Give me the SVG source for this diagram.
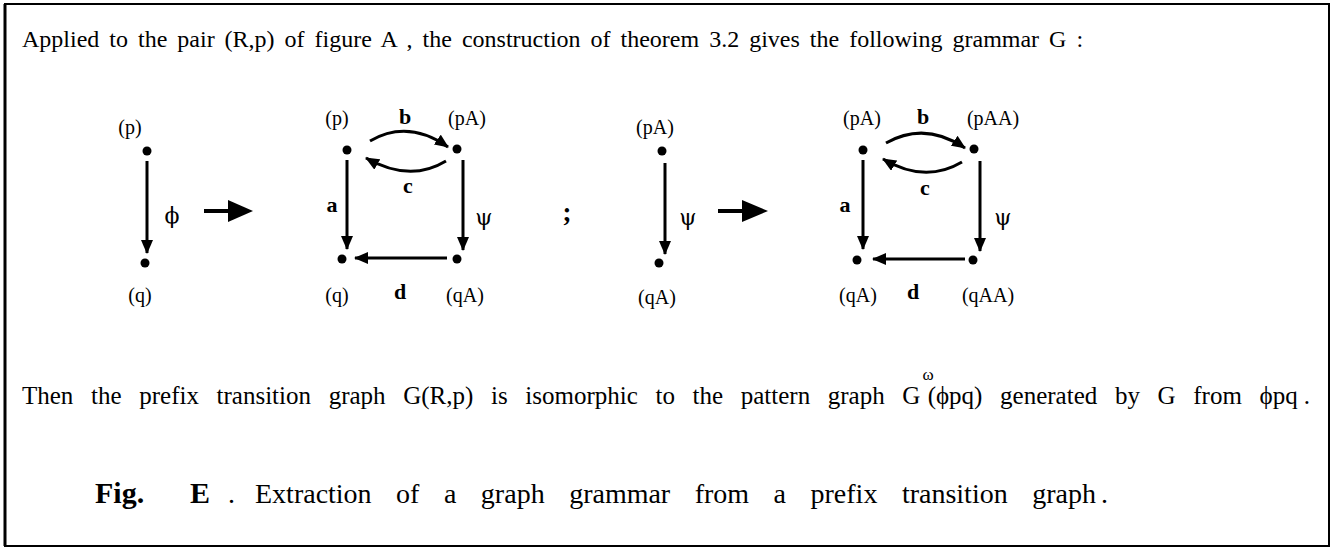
<svg xmlns="http://www.w3.org/2000/svg" width="1335" height="550" viewBox="0 0 1335 550">
<style>
text{font-family:"Liberation Serif","Times New Roman",serif;fill:#000}
.l1{font-size:24px;word-spacing:4px}
.l2{font-size:25px;word-spacing:11.4px}
.lbl{font-size:20px;text-anchor:middle}
.ltr{font-size:22px;font-weight:bold;text-anchor:middle}
.gr{font-size:22px;text-anchor:middle;font-family:"DejaVu Serif","Liberation Serif",serif}
.edge{stroke:#000;stroke-width:3;fill:none;marker-end:url(#ah)}
.dot{fill:#000}
</style>
<defs>
<marker id="ah" markerUnits="userSpaceOnUse" markerWidth="14" markerHeight="12" refX="13" refY="6" orient="auto">
<path d="M0,0 L14,6 L0,12 z" fill="#000"/>
</marker>
</defs>
<rect x="5" y="4" width="1324" height="542" fill="none" stroke="#000" stroke-width="2"/>
<line x1="5" y1="4" x2="5" y2="546" stroke="#000" stroke-width="3"/>
<text class="l1" x="22" y="47">Applied to the pair (R,p) of figure A , the construction of theorem 3.2 gives the following grammar G :</text>

<g id="connectors">
<line class="edge" x1="147" y1="161" x2="147" y2="253"/>
<line class="edge" x1="347" y1="160" x2="347" y2="249"/>
<line class="edge" x1="463" y1="160" x2="463" y2="250"/>
<line class="edge" x1="447" y1="258" x2="355" y2="258"/>
<path class="edge" d="M370,141 Q408,119 448,147"/>
<path class="edge" d="M446,161 Q410,183 366,158"/>
<line class="edge" x1="665" y1="163" x2="665" y2="254"/>
<line class="edge" x1="863" y1="160" x2="863" y2="249"/>
<line class="edge" x1="980" y1="161" x2="980" y2="251"/>
<line class="edge" x1="965" y1="259" x2="873" y2="259"/>
<path class="edge" d="M886,143 Q925,121 965,148"/>
<path class="edge" d="M962,162 Q925,184 883,159"/>
</g>

<g id="rule1-lhs">
<text class="lbl" x="130" y="134">(p)</text>
<circle class="dot" cx="147" cy="151" r="4.5"/>
<text class="gr" x="172" y="223">ϕ</text>
<circle class="dot" cx="145" cy="263" r="4.5"/>
<text class="lbl" x="140" y="302">(q)</text>
</g>
<g id="arrow1">
<line x1="204" y1="211" x2="232" y2="211" stroke="#000" stroke-width="4"/>
<path d="M228,200 L253,211 L228,222 z" fill="#000"/>
</g>
<g id="rule1-rhs">
<text class="lbl" x="337" y="125">(p)</text>
<text class="ltr" x="405" y="124">b</text>
<text class="lbl" x="467" y="125">(pA)</text>
<circle class="dot" cx="347" cy="150" r="4.5"/>
<circle class="dot" cx="457" cy="149" r="4.5"/>
<text class="ltr" x="408" y="193">c</text>
<text class="ltr" x="332" y="212">a</text>
<text class="gr" x="484" y="225">ψ</text>
<circle class="dot" cx="342" cy="259" r="4.5"/>
<circle class="dot" cx="457" cy="259" r="4.5"/>
<text class="lbl" x="337" y="302">(q)</text>
<text class="ltr" x="400" y="299">d</text>
<text class="lbl" x="465" y="302">(qA)</text>
</g>
<text x="567" y="221" font-size="27" font-weight="bold" text-anchor="middle">;</text>
<g id="rule2-lhs">
<text class="lbl" x="655" y="134">(pA)</text>
<circle class="dot" cx="662" cy="151" r="4.5"/>
<text class="gr" x="688" y="225">ψ</text>
<circle class="dot" cx="659" cy="263" r="4.5"/>
<text class="lbl" x="657" y="304">(qA)</text>
</g>
<g id="arrow2">
<line x1="718" y1="211" x2="746" y2="211" stroke="#000" stroke-width="4"/>
<path d="M742,200 L768,211 L742,222 z" fill="#000"/>
</g>
<g id="rule2-rhs">
<text class="lbl" x="862" y="125">(pA)</text>
<text class="ltr" x="923" y="124">b</text>
<text class="lbl" x="993" y="125">(pAA)</text>
<circle class="dot" cx="863" cy="150" r="4.5"/>
<circle class="dot" cx="974" cy="149" r="4.5"/>
<text class="ltr" x="925" y="195">c</text>
<text class="ltr" x="845" y="212">a</text>
<text class="gr" x="1003" y="225">ψ</text>
<circle class="dot" cx="857" cy="260" r="4.5"/>
<circle class="dot" cx="973" cy="260" r="4.5"/>
<text class="lbl" x="858" y="302">(qA)</text>
<text class="ltr" x="913" y="299">d</text>
<text class="lbl" x="988" y="302">(qAA)</text>
</g>

<text class="l2" x="22" y="404">Then the prefix transition graph G(R,p) is isomorphic to the pattern graph G<tspan dy="-24" dx="2" font-size="17">ω</tspan><tspan dy="24" dx="-6">(ϕpq) generated by G from ϕpq</tspan><tspan dx="6">.</tspan></text>

<text y="503" font-size="28" word-spacing="17.5"><tspan x="95" font-weight="bold" font-size="30">Fig.</tspan><tspan x="190" font-weight="bold" font-size="30">E</tspan><tspan x="228">.</tspan><tspan x="255">Extraction of a graph grammar from a prefix transition graph</tspan><tspan dx="5">.</tspan></text>
</svg>
